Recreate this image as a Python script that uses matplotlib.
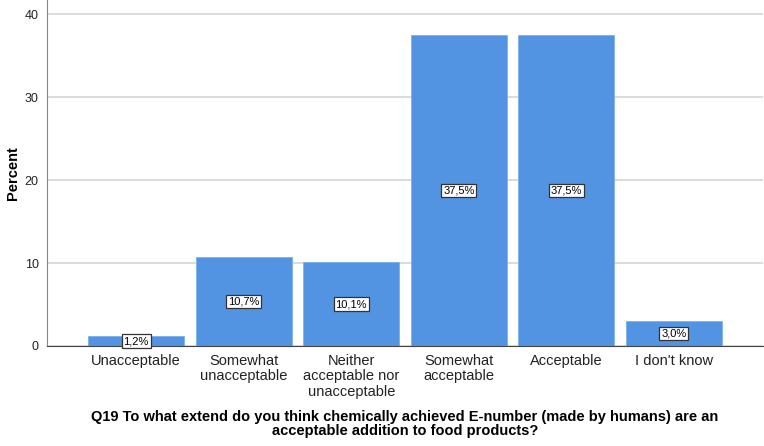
import matplotlib
matplotlib.use("Agg")
from matplotlib import pyplot as plt

# figure data
categories = ["Unacceptable", "Somewhat\nunacceptable", "Neither\nacceptable nor\nunacceptable",
              "Somewhat\nacceptable", "Acceptable", "I don't know"]
percents = [1.2, 10.7, 10.1, 37.5, 37.5, 3.0]
yticks = [0, 10, 20, 30, 40]

# figure params
bar_color = "#5294e2"
plt.rcParams['font.family'] = ['Liberation Sans', 'DejaVu Sans']

fig = plt.figure(figsize=(7.64, 4.46), dpi=100)
ax = fig.add_axes([47/764, 100/446, (763-47)/764, 346/446])

x = list(range(len(categories)))
bars = ax.bar(x, percents, width=0.89, color=bar_color, edgecolor="#7ab0ee", linewidth=0.6, zorder=2)

for xi, p in zip(x, percents):
    ax.text(xi, p / 2, f"{p:.1f}%".replace(".", ","), ha="center", va="center", fontsize=8,
            bbox=dict(boxstyle="square,pad=0.15", fc="white", ec="#333333", lw=0.9), zorder=3)

ax.set_xlim(-0.83, 5.83)
ax.set_ylim(0, 41.7)
ax.set_yticks(yticks)
ax.set_xticks(x)
ax.set_xticklabels(categories, fontsize=10.5, color="#222222", linespacing=1.1)
ax.tick_params(axis='y', labelsize=9, length=0, pad=6, colors="#222222")
ax.tick_params(axis='x', length=0, pad=6)
ax.grid(True, axis='y', color="#d9d9d9", lw=1.3, zorder=0)

ax.spines['right'].set_visible(False)
ax.spines['top'].set_visible(False)
ax.spines['left'].set_color("#888888")
ax.spines['bottom'].set_color("#444444")

ax.set_ylabel("Percent", fontsize=10.5, fontweight="bold")
ax.yaxis.set_label_coords(-0.038, 0.5)
ax.set_xlabel("Q19 To what extend do you think chemically achieved E-number (made by humans) are an\n"
              "acceptable addition to food products?", fontsize=10.5, fontweight="bold",
              linespacing=1.05, labelpad=8)

fig.savefig("out.png", dpi=100, facecolor="white")
